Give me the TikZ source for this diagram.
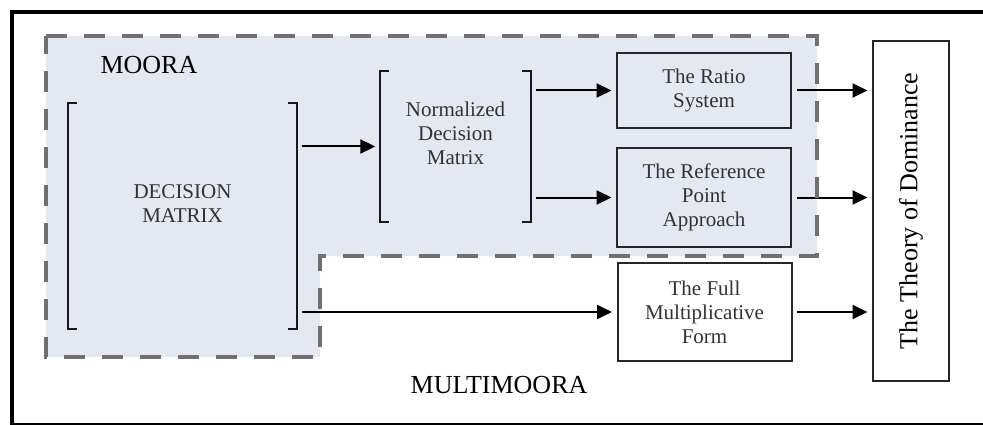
\documentclass[tikz,border=0pt]{standalone}
\usepackage{fontspec}
\setmainfont{Liberation Serif}
\usetikzlibrary{arrows.meta,positioning}
\definecolor{moorafill}{RGB}{227,232,241}
\definecolor{dashgray}{RGB}{112,112,112}
\definecolor{boxtext}{RGB}{50,50,50}

\tikzset{
  multimoora/.style={
    x=1pt, y=-1pt,
    every node/.style={font=\fontsize{21}{24}\selectfont, text=boxtext, align=center},
    method/.style={
        draw=black!85,
        line width=2pt,
        minimum width=174pt,
        inner sep=2pt,
    },
    matrixbox/.style={inner sep=0pt},
    bracket/.style={draw=black!90, line width=1.8pt},
    flow/.style={
        line width=2pt,
        -{Triangle[length=15pt,width=14pt]},
        shorten <=4.5pt,
        shorten >=4.5pt,
    },
    region/.style={draw=dashgray, line width=4.5pt, dash pattern=on 21pt off 17pt},
    title/.style={font=\fontsize{26}{30}\selectfont, text=black}
  }
}
\newcommand{\brackets}[1]{
    \draw[bracket] ([xshift=9pt]#1.north west) -- (#1.north west)
        -- (#1.south west) -- ([xshift=9pt]#1.south west);
    \draw[bracket] ([xshift=-9pt]#1.north east) -- (#1.north east)
        -- (#1.south east) -- ([xshift=-9pt]#1.south east);
}

\begin{document}
\begin{tikzpicture}[multimoora]
    \clip (0,0) rectangle (983,425);
    \draw[line width=4pt] (12,12) rectangle (995,425);

    % MOORA area
    \coordinate (r1) at (46,36);
    \coordinate (r2) at (817,36);
    \coordinate (r3) at (817,256);
    \coordinate (r4) at (320,256);
    \coordinate (r5) at (320,357);
    \coordinate (r6) at (46,357);
    \fill[moorafill] (r1) -- (r2) -- (r3) -- (r4) -- (r5) -- (r6) -- cycle;

    \node[title, anchor=base west] (moora) at (97,74) {MOORA};
    \node[title, anchor=base] (multimoora) at (499,393) {MULTIMOORA};

    % matrices
    \node[matrixbox, minimum width=229pt, minimum height=226pt] (dm) at (182.5,216) {};
    \node (dmtext) at ([yshift=12pt]dm.center) {DECISION\\MATRIX};
    \brackets{dm}
    \node[matrixbox, minimum width=151pt, minimum height=151pt] (ndm) at (455.5,146.5) {};
    \node (ndmtext) at ([yshift=13pt]ndm.center) {Normalized\\Decision\\Matrix};
    \brackets{ndm}

    % methods
    \node[method, minimum height=75pt] (ratio) at (704,90.5) {The Ratio\\System};
    \node[method, minimum height=99pt] (ref) at (704,197.5) {The Reference\\Point\\Approach};
    \node[method, minimum height=98pt] (full) at (704.5,312) {The Full\\Multiplicative\\Form};
    \node[method, title, rotate=90, minimum width=340pt, minimum height=76pt] (dom) at (911,211)
        {The Theory of Dominance};

    \draw[flow] (dm.east |- ndm.west) -- (ndm.west);
    \draw[flow] (dm.east |- full.west) -- (full.west);
    \draw[flow] (ndm.east |- ratio.west) -- (ratio.west);
    \draw[flow] (ndm.east |- ref.west) -- (ref.west);
    \draw[flow] (ratio.east) -- (ratio.east -| dom.north);
    \draw[flow] (ref.east) -- (ref.east -| dom.north);
    \draw[flow] (full.east) -- (full.east -| dom.north);

    \draw[region] (r1) -- (r2) -- (r3) -- (r4) -- (r5) -- (r6) -- cycle;
\end{tikzpicture}
\end{document}
